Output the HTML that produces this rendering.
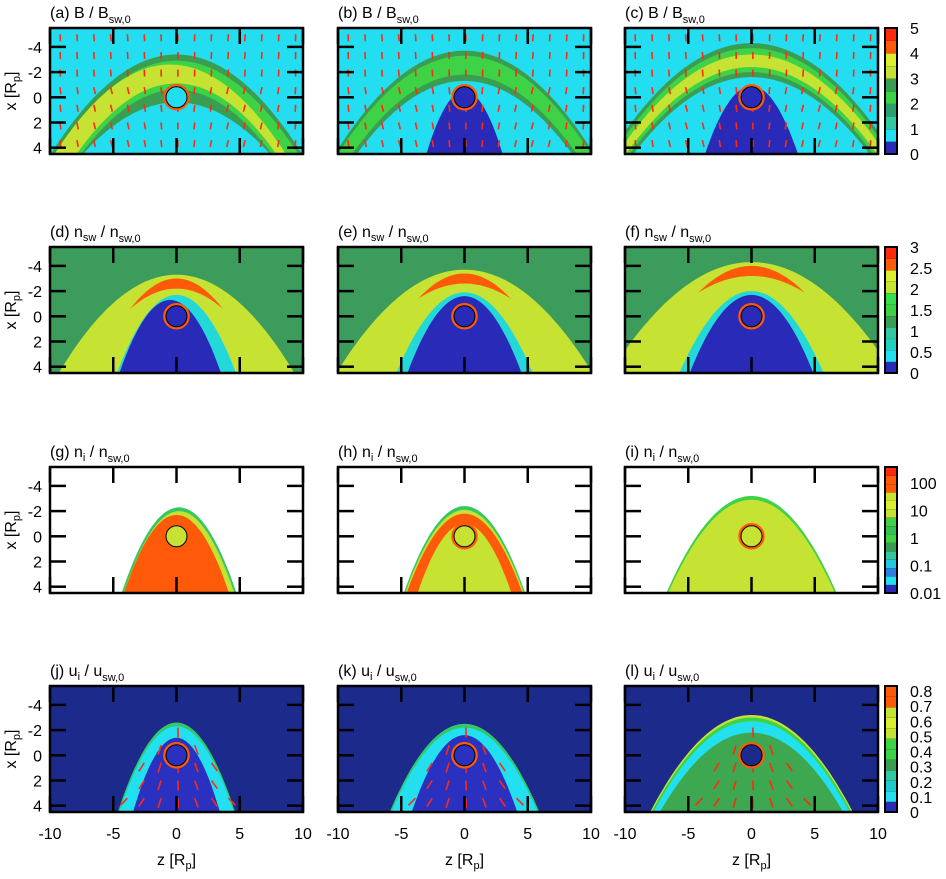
<!DOCTYPE html>
<html><head><meta charset="utf-8">
<style>
body{margin:0;background:#fff;}
svg{display:block;font-family:"Liberation Sans",sans-serif;}
</style></head>
<body>
<svg id="fig" width="946" height="879" viewBox="0 0 946 879" xmlns="http://www.w3.org/2000/svg"></svg>
<script>
const NS='http://www.w3.org/2000/svg';
const svg=document.getElementById('fig');
const colLeft=[50,338,625];
const rowTop=[28,247,467,686];
const PW=253, PH=126;
const zTicks=[-10,-5,0,5,10];
const xTicks=[-4,-2,0,2,4];
const panelLetters=['a','b','c','d','e','f','g','h','i','j','k','l'];
const rowTitles=[['B','','B','sw,0'],['n','sw','n','sw,0'],['n','i','n','sw,0'],['u','i','u','sw,0']];
const rowBg=['#22def0','#3c9c5c','#ffffff','#1c2a8c'];
// layers: [noseX, curvature, zCenter, color]
const layersA=[[-3.4,0.08,0,'#3a9e52'],[-2.9,0.08,0,'#3ed246'],[-2.6,0.085,-0.5,'#c6e232'],[-1.1,0.09,0,'#3ed246'],[-0.6,0.09,0,'#3a9e52'],[0.4,0.075,0,'#22def0']];
const layersB=[[-3.7,0.078,0,'#3a9e52'],[-3.3,0.078,0,'#3ed246'],[-1.8,0.08,0,'#3a9e52'],[-1.3,0.08,0,'#22def0'],[-0.5,0.55,0,'#2a2ab8']];
const layersC=[[-4.3,0.07,0,'#3a9e52'],[-3.9,0.07,0,'#3ed246'],[-3.4,0.07,0,'#c6e232'],[-2.4,0.07,0,'#3ed246'],[-2.0,0.07,0,'#3a9e52'],[-1.6,0.07,0,'#22def0'],[-0.9,0.4,0,'#2a2ab8']];
const layersD=[[-3.3,0.09,0,'#c6e232'],[-3.0,0.18,0,'#ff5a0a'],[-2.2,0.12,0,'#c6e232'],[-1.7,0.28,0,'#22d8d8'],[-1.3,0.36,-0.5,'#2a2ab8']];
const layersE=[[-3.7,0.08,0,'#c6e232'],[-3.4,0.15,0,'#ff5a0a'],[-2.6,0.09,0,'#c6e232'],[-1.9,0.22,0,'#22d8d8'],[-1.6,0.3,0,'#2a2ab8']];
const layersF=[[-4.3,0.07,0,'#c6e232'],[-4.0,0.12,0,'#ff5a0a'],[-3.2,0.075,0,'#c6e232'],[-2.0,0.2,0,'#22d8d8'],[-1.7,0.26,0,'#2a2ab8']];
const layersG=[[-2.3,0.33,0.2,'#34c864'],[-2.0,0.34,0.2,'#c6e232'],[-1.7,0.36,0.0,'#ff5a0a']];
const layersH=[[-2.4,0.30,0,'#34c864'],[-2.1,0.30,0,'#c6e232'],[-1.8,0.30,0,'#ff5a0a'],[-1.0,0.40,0,'#c6e232']];
const layersI=[[-3.2,0.17,0,'#3ed246'],[-2.9,0.17,0,'#c6e232']];
const layersJ=[[-2.6,0.33,0,'#34c864'],[-2.3,0.33,0,'#22e0f0'],[-1.4,0.5,0,'#2a30c0']];
const layersK=[[-2.5,0.2,0,'#34c864'],[-2.2,0.2,0,'#22e0f0'],[-1.6,0.35,0,'#2a30c0']];
const layersL=[[-3.2,0.12,0,'#c6e232'],[-3.0,0.12,0,'#3ed246'],[-2.7,0.12,0,'#22e0f0'],[-1.8,0.12,0,'#3ea850']];
const allLayers=[layersA,layersB,layersC,layersD,layersE,layersF,layersG,layersH,layersI,layersJ,layersK,layersL];
const bodyFill=['#22def0','#2a2ab8','#2a2ab8','#2a2ab8','#2a2ab8','#2a2ab8','#c6e232','#c6e232','#c6e232','#2a30c0','#2a30c0','#1c2a8c'];
const arrowsOn=[1,1,1,0,0,0,0,0,0,1,1,1];
// colorbars
const cb1Colors=['#2a2ab8','#22e0f0','#34c8a0','#2aa070','#3ed246','#3a9e52','#c6e232','#d8f030','#ff5a0a','#ff2a0a'];
const cb1Labels=['0','1','2','3','4','5'];
const cb2Colors=['#2a2ab8','#22e0f0','#22d0c0','#34c8a0','#3a9e52','#3ed246','#34e050','#c6e232','#d8f030','#ff5a0a','#ff2a0a'];
const cb2Labels=['0','0.5','1','1.5','2','2.5','3'];
const cb3Colors=['#2a2ab8','#22e0f0','#2a80e0','#22c8e0','#34c8a0','#3a9e52','#3ed246','#34c050','#3ed246','#c6e232','#d8f030','#c6e232','#ff5a0a','#ff5a0a','#ff2a0a'];
const cb3Labels=['0.01','0.1','1','10','100'];
const cb4Colors=['#2a2ab8','#22e0f0','#22c8d0','#34c8a0','#3a9e52','#3ed246','#3ed246','#c6e232','#d8f030','#c6e232','#ff5a0a','#ff5a0a'];
const cb4Labels=['0','0.1','0.2','0.3','0.4','0.5','0.6','0.7','0.8'];

function el(tag,attrs,parent){const e=document.createElementNS(NS,tag);for(const k in attrs)e.setAttribute(k,attrs[k]);(parent||svg).appendChild(e);return e;}

for(let r=0;r<4;r++)for(let c=0;c<3;c++){
  const idx=r*3+c, L=colLeft[c], T=rowTop[r];
  const sx=z=>L+(z+10)*PW/20;
  const sy=x=>T+(x+5.5)*PH/10;
  const g=el('g',{});
  
  
  const cp=el('clipPath',{id:'cp'+idx},g);
  el('rect',{x:L,y:T,width:PW,height:PH},cp);
  const inner=el('g',{'clip-path':'url(#cp'+idx+')'},g);
  const bg=el('rect',{x:L,y:T,width:PW,height:PH,fill:rowBg[r]},inner);
  
  
  allLayers[idx].forEach(ly=>{
    let d='';
    for(let z=-12;z<=12.001;z+=0.25){const x=ly[0]+ly[1]*(z-ly[2])*(z-ly[2]);d+=(d?'L':'M')+sx(z).toFixed(1)+' '+sy(Math.min(x,8)).toFixed(1);}
    d+='L'+sx(12)+' '+sy(8)+'L'+sx(-12)+' '+sy(8)+'Z';
    const p=el('path',{d:d,fill:ly[3]},inner);
    
    
  });
  if(arrowsOn[idx]){
    for(let z=-9.2;z<=9.5;z+=1.33)for(let x=-5;x<=4.5;x+=1.4){
      let ang;
      if(r===0){ang=Math.PI/2+0.25*Math.sin(z*0.3)*(x>-2?1:0.3);}
      else{const inside=x> -2.5+0.3*z*z; if(!inside)continue; ang=Math.atan2(1,z*0.25);}
      const x0=sx(z),y0=sy(x),len=r===0?7:10;
      const x1=x0+len*Math.cos(ang),y1=y0+len*Math.sin(ang);
      const a=el('line',{x1:x0,y1:y0,x2:x1,y2:y1,stroke:'#ff2a10','stroke-width':1.6},inner);
      
      
    }
  }
  const b=el('circle',{cx:sx(0),cy:sy(0),r:12,fill:bodyFill[idx],stroke:'#ff5a0a','stroke-width':2.5},g);
  
  
  el('circle',{cx:sx(0),cy:sy(0),r:10.5,fill:'none',stroke:'#000','stroke-width':1},g);
  const f=el('rect',{x:L,y:T,width:PW,height:PH,fill:'none',stroke:'#000','stroke-width':2.5},g);
  
  
  zTicks.forEach(z=>{el('line',{x1:sx(z),y1:T,x2:sx(z),y2:T+16,stroke:'#000','stroke-width':2.5},g);el('line',{x1:sx(z),y1:T+PH,x2:sx(z),y2:T+PH-16,stroke:'#000','stroke-width':2.5},g);});
  xTicks.forEach(x=>{el('line',{x1:L,y1:sy(x),x2:L+16,y2:sy(x),stroke:'#000','stroke-width':2.5},g);el('line',{x1:L+PW,y1:sy(x),x2:L+PW-16,y2:sy(x),stroke:'#000','stroke-width':2.5},g);});
  const t=rowTitles[r];
  const tt=el('text',{x:L,y:T-10,'font-size':16},g);
  
  
  tt.innerHTML='('+panelLetters[idx]+') '+t[0]+(t[1]?'<tspan dy="4" font-size="11">'+t[1]+'</tspan><tspan dy="-4">':'<tspan>')+' / '+t[2]+'</tspan><tspan dy="5" font-size="11">'+t[3]+'</tspan>';
  if(c===0){
    xTicks.forEach(x=>{const l=el('text',{x:L-8,y:sy(x)+6,'text-anchor':'end','font-size':16},svg);l.textContent=String(x);});
    const yl=el('text',{transform:'translate(16,'+(T+PH/2)+') rotate(-90)','text-anchor':'middle','font-size':16},svg);
    yl.innerHTML='x [R<tspan dy="4" font-size="11">p</tspan><tspan dy="-4">]</tspan>';
    
  }
  if(r===3){
    zTicks.forEach(z=>{const l=el('text',{x:sx(z),y:T+PH+27,'text-anchor':'middle','font-size':16},svg);l.textContent=String(z);});
    const xl=el('text',{x:sx(0),y:T+PH+53,'text-anchor':'middle','font-size':16},svg);
    xl.innerHTML='z [R<tspan dy="4" font-size="11">p</tspan><tspan dy="-4">]</tspan>';
    
  }
}
[[cb1Colors,cb1Labels],[cb2Colors,cb2Labels],[cb3Colors,cb3Labels],[cb4Colors,cb4Labels]].forEach((cb,r)=>{
  const T=rowTop[r],X=885,W=12;
  const g=el('g',{});
  
  
  const n=cb[0].length,h=PH/n;
  cb[0].forEach((col,i)=>{el('rect',{x:X,y:T+PH-(i+1)*h,width:W,height:h+0.3,fill:col},g);el('line',{x1:X,x2:X+W,y1:T+PH-(i+1)*h,y2:T+PH-(i+1)*h,stroke:'#000','stroke-width':0.8},g);});
  el('rect',{x:X,y:T,width:W,height:PH,fill:'none',stroke:'#000','stroke-width':2},g);
  const m=cb[1].length;
  const top=r===2?T+16:(r===3?T+5:T);
  cb[1].forEach((lab,i)=>{const y=T+PH-(T+PH-top)*i/(m-1);const l=el('text',{x:910,y:y+6,'font-size':16},g);l.textContent=lab;});
});
</script>
</body></html>
